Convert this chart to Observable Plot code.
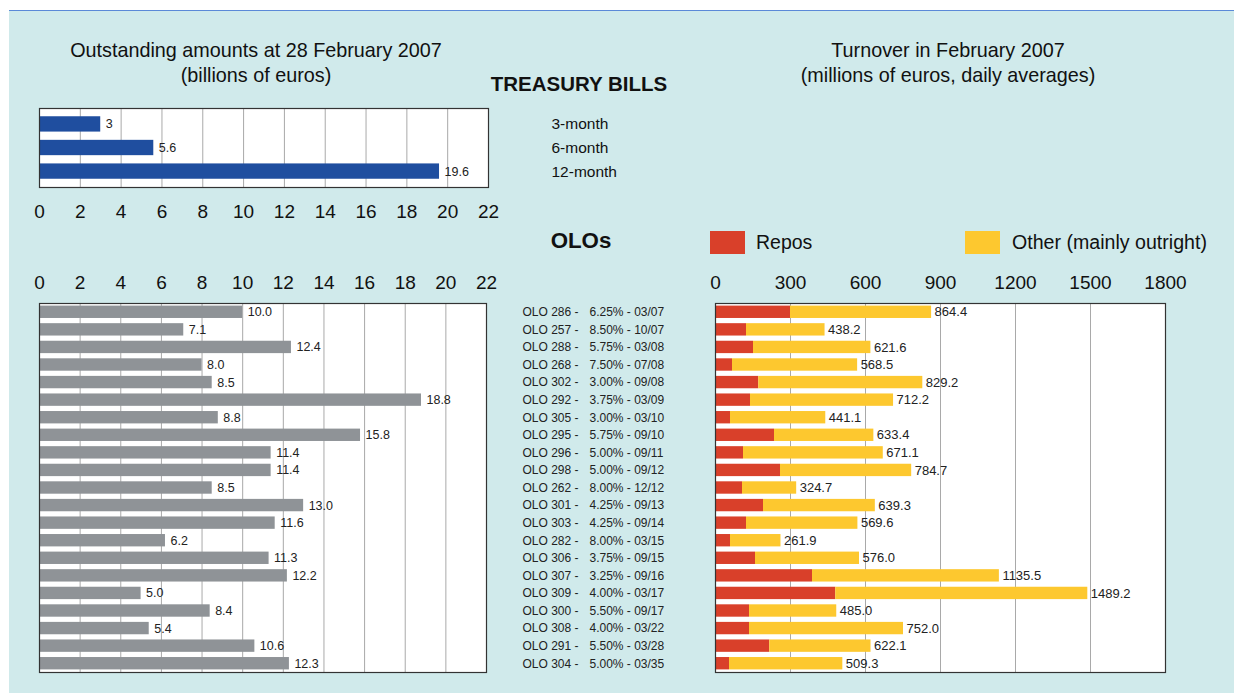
<!DOCTYPE html>
<html>
<head>
<meta charset="utf-8">
<script src="https://cdn.jsdelivr.net/npm/d3@7"></script>
<script src="https://cdn.jsdelivr.net/npm/@observablehq/plot@0.6"></script>
<style>
  body { margin: 0; background: #ffffff; }
  #page { position: relative; width: 1234px; height: 693px; overflow: hidden; background: #ffffff;
          font-family: "Liberation Sans", Arial, sans-serif; color: #111; }
  #bg { position: absolute; left: 9px; top: 10px; right: 0; bottom: 0; background: #d0eaeb; border-top: 1px solid #5b8ad8; }
  .t { position: absolute; white-space: nowrap; }
  .title { font-size: 19.8px; line-height: 25px; text-align: center; transform: translateX(-50%); }
  .chart { position: absolute; }
  .sw { position: absolute; width: 35px; height: 23px; }
</style>
</head>
<body>
<div id="page">
  <div id="bg"></div>
  <div class="t title" style="left:256px; top:38px;">Outstanding amounts at 28 February 2007<br>(billions of euros)</div>
  <div class="t title" style="left:948px; top:38px;">Turnover in February 2007<br>(millions of euros, daily averages)</div>
  <div class="t" style="left:579px; top:72px; transform:translateX(-50%); font-weight:bold; font-size:20.5px;">TREASURY BILLS</div>
  <div class="t" style="left:581px; top:228px; transform:translateX(-50%); font-weight:bold; font-size:22.3px;">OLOs</div>
  <div class="sw" style="left:710px; top:231px; background:#d9402a;"></div>
  <div class="t" style="left:756px; top:231px; font-size:19.5px;">Repos</div>
  <div class="sw" style="left:965px; top:231px; background:#fdc82f;"></div>
  <div class="t" style="left:1012px; top:231px; font-size:19.6px;">Other (mainly outright)</div>
  <div id="chartA" class="chart" style="left:0px; top:100px;"></div>
  <div id="chartB" class="chart" style="left:0px; top:250px;"></div>
  <div id="chartC" class="chart" style="left:500px; top:250px;"></div>
</div>
<script>
// ---- Treasury bills ----
const tbTerms = ["3-month", "6-month", "12-month"];
const tbAmounts = [3, 5.6, 19.6];
const tbLabels = ["3", "5.6", "19.6"];
const bnTicks = [0, 2, 4, 6, 8, 10, 12, 14, 16, 18, 20, 22];

// ---- OLOs ----
const oloCodes = ["OLO 286", "OLO 257", "OLO 288", "OLO 268", "OLO 302", "OLO 292", "OLO 305", "OLO 295", "OLO 296", "OLO 298", "OLO 262",
                  "OLO 301", "OLO 303", "OLO 282", "OLO 306", "OLO 307", "OLO 309", "OLO 300", "OLO 308", "OLO 291", "OLO 304"];
const oloCoupons = ["6.25%", "8.50%", "5.75%", "7.50%", "3.00%", "3.75%", "3.00%", "5.75%", "5.00%", "5.00%", "8.00%",
                    "4.25%", "4.25%", "8.00%", "3.75%", "3.25%", "4.00%", "5.50%", "4.00%", "5.50%", "5.00%"];
const oloMaturities = ["03/07", "10/07", "03/08", "07/08", "09/08", "03/09", "03/10", "09/10", "09/11", "09/12", "12/12",
                       "09/13", "09/14", "03/15", "09/15", "09/16", "03/17", "09/17", "03/22", "03/28", "03/35"];
const oloOutstanding = [10.0, 7.1, 12.4, 8.0, 8.5, 18.8, 8.8, 15.8, 11.4, 11.4, 8.5, 13.0, 11.6, 6.2, 11.3, 12.2, 5.0, 8.4, 5.4, 10.6, 12.3];
const oloTurnover = [864.4, 438.2, 621.6, 568.5, 829.2, 712.2, 441.1, 633.4, 671.1, 784.7, 324.7, 639.3, 569.6, 261.9, 576.0, 1135.5, 1489.2, 485.0, 752.0, 622.1, 509.3];
const oloRepos = [300, 124, 152, 68, 173, 140, 60, 236, 112, 260, 108, 192, 124, 60, 160, 388, 481, 136, 136, 217, 56];
const turnoverTicks = [0, 300, 600, 900, 1200, 1500, 1800];
const seriesNames = ["Repos", "Other (mainly outright)"];
const seriesColors = ["#d9402a", "#fdc82f"];

const FONT = '"Liberation Sans", Arial, sans-serif';
const baseStyle = { background: "transparent", fontFamily: FONT, color: "#111", overflow: "visible" };

const tb = tbTerms.map((t, i) => ({ term: t, amount: tbAmounts[i], label: tbLabels[i] }));
const olo = oloCodes.map((c, i) => ({
  code: c, coupon: oloCoupons[i], maturity: oloMaturities[i],
  outstanding: oloOutstanding[i], total: oloTurnover[i], repos: oloRepos[i]
}));
const oloLong = olo.flatMap(d => [
  { code: d.code, series: seriesNames[0], value: d.repos },
  { code: d.code, series: seriesNames[1], value: +(d.total - d.repos).toFixed(1) }
]);

// Chart A: treasury bills outstanding
const chartA = Plot.plot({
  width: 640, height: 127,
  marginLeft: 39, marginRight: 152, marginTop: 8, marginBottom: 40,
  style: baseStyle,
  x: { domain: [0, 22], label: null },
  y: { domain: tbTerms, padding: 0.35, round: false, axis: null },
  marks: [
    Plot.frame({ fill: "white" }),
    Plot.ruleX(bnTicks, { stroke: "#a9a9a9", strokeWidth: 1 }),
    Plot.barX(tb, { x: "amount", y: "term", fill: "#1f4e9f" }),
    Plot.text(tb, { x: "amount", y: "term", text: "label", dx: 5, textAnchor: "start", fontSize: 12.5, fill: "#222" }),
    Plot.text(tb, { y: "term", text: "term", frameAnchor: "right", dx: 63, textAnchor: "start", fontSize: 15.5, fill: "#111" }),
    Plot.frame({ stroke: "#333", strokeWidth: 1.2 }),
    Plot.axisX({ anchor: "bottom", ticks: bnTicks, tickSize: 0, tickPadding: 17, fontSize: 19, tickFormat: d => String(d), fill: "#111" })
  ]
});
document.getElementById("chartA").appendChild(chartA);

// Chart B: OLO outstanding
const chartB = Plot.plot({
  width: 520, height: 432,
  marginLeft: 39, marginRight: 34, marginTop: 53, marginBottom: 10,
  style: baseStyle,
  x: { domain: [0, 22], label: null },
  y: { domain: oloCodes, padding: 0, round: false, axis: null },
  marks: [
    Plot.frame({ fill: "white" }),
    Plot.ruleX(bnTicks, { stroke: "#a9a9a9", strokeWidth: 1 }),
    Plot.barX(olo, { x: "outstanding", y: "code", fill: "#8f9397", insetTop: 2.6, insetBottom: 2.6 }),
    Plot.text(olo, { x: "outstanding", y: "code", text: d => d.outstanding.toFixed(1), dx: 5, textAnchor: "start", fontSize: 12.5, fill: "#222" }),
    Plot.frame({ stroke: "#333", strokeWidth: 1.2 }),
    Plot.axisX({ anchor: "top", ticks: bnTicks, tickSize: 0, tickPadding: 15, fontSize: 19, tickFormat: d => String(d), fill: "#111" })
  ]
});
document.getElementById("chartB").appendChild(chartB);

// Chart C: OLO turnover (stacked)
const chartC = Plot.plot({
  width: 734, height: 432,
  marginLeft: 215, marginRight: 69, marginTop: 53, marginBottom: 10,
  style: baseStyle,
  x: { domain: [0, 1800], label: null },
  y: { domain: oloCodes, padding: 0, round: false, axis: null },
  color: { domain: seriesNames, range: seriesColors },
  marks: [
    Plot.frame({ fill: "white" }),
    Plot.ruleX(turnoverTicks, { stroke: "#a9a9a9", strokeWidth: 1 }),
    Plot.barX(oloLong, { x: "value", y: "code", fill: "series", order: seriesNames, insetTop: 2.6, insetBottom: 2.6 }),
    Plot.text(olo, { x: "total", y: "code", text: d => d.total.toFixed(1), dx: 3, textAnchor: "start", fontSize: 13, fill: "#222" }),
    Plot.text(olo, { y: "code", text: d => d.code + " -", frameAnchor: "left", dx: -193, textAnchor: "start", fontSize: 12, fill: "#222" }),
    Plot.text(olo, { y: "code", text: d => d.coupon + " - " + d.maturity, frameAnchor: "left", dx: -126, textAnchor: "start", fontSize: 12, fill: "#222" }),
    Plot.frame({ stroke: "#333", strokeWidth: 1.2 }),
    Plot.axisX({ anchor: "top", ticks: turnoverTicks, tickSize: 0, tickPadding: 15, fontSize: 19, tickFormat: d => String(d), fill: "#111" })
  ]
});
document.getElementById("chartC").appendChild(chartC);
</script>
</body>
</html>
